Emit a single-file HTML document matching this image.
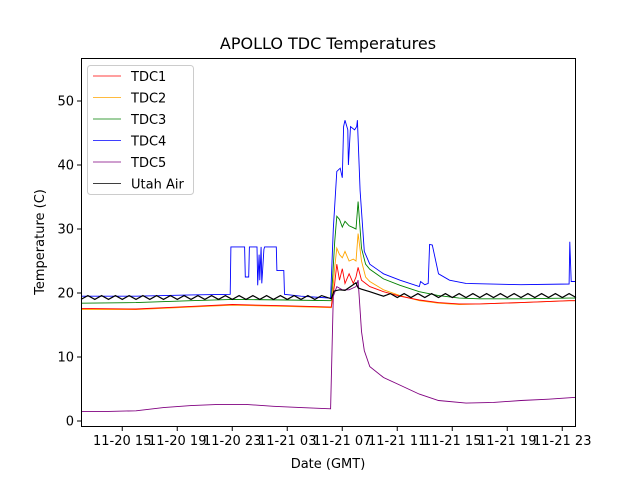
<!DOCTYPE html>
<html><head><meta charset="utf-8"><style>
body{margin:0;background:#fff;}
svg text{font-family:"DejaVu Sans","Liberation Sans",sans-serif;fill:#000;}
</style></head><body>
<svg id="chart" width="640" height="480" viewBox="0 0 640 480" xmlns="http://www.w3.org/2000/svg">
<rect width="640" height="480" fill="#fff"/>
<text x="328" y="49" font-size="16" text-anchor="middle">APOLLO TDC Temperatures</text>
<g id="plot"></g>
<g id="axes"></g>
<text x="328" y="468" font-size="13" text-anchor="middle">Date (GMT)</text>
<text transform="translate(44,242) rotate(-90)" font-size="13" text-anchor="middle">Temperature (C)</text>
<g>
<rect x="87.5" y="65.5" width="106" height="129" rx="3" fill="#fff" stroke="#ccc"/>
</g>
<g id="legend-items"></g>
</svg>
<script>
const xTickLabels=["11-20 15","11-20 19","11-20 23","11-21 03","11-21 07","11-21 11","11-21 15","11-21 19","11-21 23"];
const xTickHours=[15,19,23,27,31,35,39,43,47];
const yTicks=[0,10,20,30,40,50];
const seriesNames=["TDC1","TDC2","TDC3","TDC4","TDC5","Utah Air"];
const seriesColors=["red","orange","green","blue","purple","black"];
const tdc1Hours=[12,16,20,23,27,30.2,30.45,30.6,30.8,31.0,31.2,31.5,31.8,32.0,32.15,32.4,32.7,33.0,34,35.2,36.6,38,39.5,41,44,47.5,48];
const tdc1Values=[17.6,17.5,17.9,18.2,18.0,17.8,21.5,24.5,22,23.8,21.5,23,21.5,22.5,24,22,21.5,21,20.2,19.5,18.9,18.5,18.3,18.3,18.5,18.8,18.8];
const tdc2Hours=[12,16,20,23,27,30.2,30.45,30.6,30.8,31.0,31.2,31.5,31.8,32.0,32.15,32.4,32.7,33.0,34,35.2,36.6,38,39.5,41,44,47.5,48];
const tdc2Values=[17.4,17.4,17.8,18.1,17.9,17.7,24,27,26,25.5,26.5,25,25.3,25,29.3,25,22.5,21.8,20.5,19.6,18.8,18.4,18.2,18.3,18.5,18.8,18.8];
const tdc3Hours=[12,16,20,23,27,30.2,30.45,30.6,30.8,31.0,31.2,31.5,31.8,32.0,32.15,32.4,32.7,33.0,34,35.2,36.6,38,39.5,41,44,47.5,48];
const tdc3Values=[18.4,18.5,18.8,19.0,18.9,18.8,28,32,31.5,30.3,31.2,30.5,30.2,30,34.3,27,24.5,23.7,22.2,21.2,20.2,19.6,19.2,19.1,19.1,19.2,19.2];
const tdc4Hours=[12,16,20,22.85,22.9,23.9,23.95,24.2,24.25,24.8,24.85,24.95,25.0,25.1,25.15,25.3,25.35,25.55,26.2,26.25,26.75,26.8,28,30.15,30.35,30.6,30.85,31.0,31.1,31.2,31.4,31.45,31.6,31.9,32.05,32.1,32.3,32.6,33.0,34,35.2,36.6,36.7,37.0,37.25,37.35,37.55,38,38.8,40,44,47.5,47.55,47.65,48];
const tdc4Values=[19.5,19.5,19.7,19.8,27.2,27.2,22.5,22.5,27.2,27.2,21.2,26,22,27.2,21.5,26.8,27.2,27.2,27.2,23.5,23.5,19.8,19.5,19.2,30,39,39.5,38,46,47,45.5,40,46,45.5,46,47,36,26.5,24.5,23,22,21,21.8,21.3,21.5,27.6,27.5,23,22,21.5,21.3,21.4,28,21.8,21.8];
const tdc5Hours=[12,14,16,18,20,22,24,26,28,30.15,30.35,30.6,31,31.5,32,32.15,32.4,32.6,33,34,35,36.6,38,40,42,44,46,48];
const tdc5Values=[1.5,1.5,1.6,2.1,2.4,2.6,2.6,2.3,2.1,1.9,19.5,21,20.5,20.5,21,22,14,11,8.5,6.8,5.8,4.2,3.2,2.8,2.9,3.2,3.4,3.7];
const utahHours=[12,12.5,13,13.5,14,14.5,15,15.5,16,16.5,17,17.5,18,18.5,19,19.5,20,20.5,21,21.5,22,22.5,23,23.5,24,24.5,25,25.5,26,26.5,27,27.5,28,28.5,29,29.5,30.2,30.4,30.8,31.2,31.6,32.0,32.15,32.4,33,34,34.5,35,35.5,36,36.5,37,37.5,38,38.5,39,39.5,40,40.5,41,41.5,42,42.5,43,43.5,44,44.5,45,45.5,46,46.5,47,47.5,48];
const utahValues=[19.0,19.6,19.0,19.6,19.0,19.6,19.0,19.6,19.0,19.6,19.0,19.6,19.0,19.6,19.0,19.6,19.0,19.6,19.0,19.6,19.0,19.6,19.0,19.6,19.0,19.6,19.0,19.6,19.0,19.6,19.0,19.6,19.0,19.6,19.0,19.6,19.1,20.3,20.5,20.4,21,21.6,20.8,20.6,20.2,19.5,19.9,19.3,19.9,19.3,19.9,19.3,19.9,19.3,19.9,19.3,19.9,19.3,19.9,19.3,19.9,19.3,19.9,19.3,19.9,19.3,19.9,19.3,19.9,19.3,19.9,19.3,19.9,19.3];

const L=81,R=576,T=58,B=427;
const x=h=>L+(h-12)/36*(R-L);
const y=v=>421-v*6.4;
const NS="http://www.w3.org/2000/svg";
const plot=document.getElementById('plot'), axes=document.getElementById('axes'), leg=document.getElementById('legend-items');
function mk(tag,attrs,parent){const e=document.createElementNS(NS,tag);for(const k in attrs)e.setAttribute(k,attrs[k]);parent.appendChild(e);return e;}
const allH=[tdc1Hours,tdc2Hours,tdc3Hours,tdc4Hours,tdc5Hours,utahHours];
const allV=[tdc1Values,tdc2Values,tdc3Values,tdc4Values,tdc5Values,utahValues];
const order=[3,2,1,0,4,5];
order.forEach(i=>{
  const d=allH[i].map((h,j)=>(j?'L':'M')+x(h).toFixed(1)+','+y(allV[i][j]).toFixed(1)).join('');
  const p=mk('path',{d:d,fill:'none',stroke:seriesColors[i],'stroke-width':i==5?1.2:0.9},plot);
  
  
});
const fr=mk('rect',{x:L+0.5,y:T+0.5,width:R-L-1,height:B-T-1,fill:'none',stroke:'#000','stroke-width':1},axes);


yTicks.forEach(v=>{
  mk('line',{x1:L-4,x2:L,y1:y(v),y2:y(v),stroke:'#000'},axes);
  const t=mk('text',{x:L-7,y:y(v)+4.5,'font-size':13,'text-anchor':'end'},axes);
  t.textContent=v;
  
  
});
xTickHours.forEach((h,i)=>{
  mk('line',{x1:x(h),x2:x(h),y1:B,y2:B+4,stroke:'#000'},axes);
  const t=mk('text',{x:x(h),y:B+18,'font-size':13,'text-anchor':'middle'},axes);
  t.textContent=xTickLabels[i];
  
  
});
seriesNames.forEach((n,i)=>{
  const yy=76+i*21.5;
  mk('line',{x1:93,x2:121,y1:yy,y2:yy,stroke:seriesColors[i],'stroke-width':1,opacity:0.75},leg);
  const t=mk('text',{x:131,y:yy+5,'font-size':13},leg);
  t.textContent=n;
  
  
});
</script>
</body></html>
